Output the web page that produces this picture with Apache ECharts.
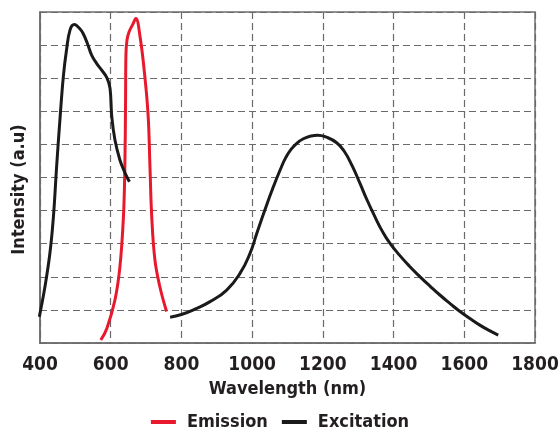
<!DOCTYPE html>
<html>
<head>
<meta charset="utf-8">
<script src="https://cdn.jsdelivr.net/npm/echarts@6/dist/echarts.min.js"></script>
<style>html,body{margin:0;padding:0;background:#fff}#c{width:560px;height:440px}</style>
</head>
<body>
<div id="c"></div>
<script>
var xTicks = [400, 600, 800, 1000, 1200, 1400, 1600, 1800];

var emissionWl = [572, 589, 612, 626, 636, 640, 642, 643, 646, 652, 662, 671, 683, 697, 706, 711, 716, 725, 739, 758];
var emissionI  = [0.09, 0.44, 1.30, 2.30, 3.82, 5.33, 7.34, 8.70, 9.15, 9.40, 9.62, 9.80, 9.25, 8.00, 6.84, 5.33, 3.82, 2.51, 1.70, 0.95];

var excitationVisWl = [398, 414, 428, 438, 447, 457, 466, 475, 485, 497, 512, 522, 534, 546, 560, 574, 589, 598, 603, 612, 626, 640, 653];
var excitationVisI  = [0.79, 1.70, 2.71, 3.82, 5.33, 6.84, 8.05, 8.85, 9.46, 9.62, 9.50, 9.35, 9.05, 8.70, 8.45, 8.25, 8.02, 7.70, 6.84, 6.13, 5.53, 5.15, 4.87];

var excitationNirWl = [768, 800, 840, 881, 928, 966, 994, 1013, 1036, 1060, 1080, 1095, 1110, 1127, 1145, 1165, 1185, 1210, 1239, 1260, 1283, 1305, 1325, 1347, 1368, 1390, 1418, 1445, 1475, 1503, 1531, 1560, 1588, 1616, 1644, 1670, 1696];
var excitationNirI  = [0.78, 0.86, 1.03, 1.25, 1.60, 2.11, 2.71, 3.31, 4.02, 4.72, 5.25, 5.60, 5.85, 6.04, 6.17, 6.25, 6.28, 6.22, 6.05, 5.80, 5.35, 4.82, 4.32, 3.82, 3.38, 3.01, 2.64, 2.32, 2.00, 1.72, 1.45, 1.19, 0.95, 0.74, 0.54, 0.38, 0.24];

function pairs(xs, ys) { return xs.map(function (x, i) { return [x, ys[i]]; }); }

var FONT = '"DejaVu Sans Condensed", "DejaVu Sans", sans-serif';
var TXT = '#231f20';

var chart = echarts.init(document.getElementById('c'), null, {renderer: 'canvas'});
chart.setOption({
  animation: false,
  backgroundColor: '#fff',
  grid: {left: 40, right: 25, top: 12, bottom: 97, containLabel: false, outerBoundsMode: 'none',
         show: true, borderColor: '#6d6d6d', borderWidth: 1.5, backgroundColor: 'transparent'},
  legend: {
    bottom: 4, left: 'center',
    data: ['Emission', 'Excitation'],
    icon: 'rect', itemWidth: 25, itemHeight: 4, itemGap: 14,
    textStyle: {fontFamily: FONT, fontWeight: 'bold', fontSize: 18, color: TXT, padding: [0, 0, 0, 6]}
  },
  xAxis: {
    type: 'value', min: xTicks[0], max: xTicks[xTicks.length - 1], interval: 200,
    name: 'Wavelength (nm)', nameLocation: 'middle', nameGap: 32,
    nameTextStyle: {fontFamily: FONT, fontWeight: 'bold', fontSize: 18, color: TXT},
    axisLine: {show: true, lineStyle: {color: '#6d6d6d', width: 1.5}},
    axisTick: {show: false},
    axisLabel: {fontFamily: FONT, fontWeight: 'bold', fontSize: 19, color: TXT, margin: 13,
                formatter: function (v) { return String(v); }},
    splitLine: {show: true, lineStyle: {color: '#6a6a6a', type: [7, 4], width: 1.2}}
  },
  yAxis: {
    type: 'value', min: 0, max: 10, interval: 1,
    name: 'Intensity (a.u)', nameLocation: 'middle', nameGap: 12,
    nameTextStyle: {fontFamily: FONT, fontWeight: 'bold', fontSize: 18, color: TXT, padding: [0, 24, 0, 0]},
    axisLine: {show: true, lineStyle: {color: '#6d6d6d', width: 1.5}},
    axisTick: {show: false},
    axisLabel: {show: false},
    splitLine: {show: true, lineStyle: {color: '#6a6a6a', type: [7, 4], width: 1.2}}
  },
  series: [
    {name: 'Emission', type: 'line', data: pairs(emissionWl, emissionI), smooth: 0.4, showSymbol: false,
     color: '#e8192c', lineStyle: {color: '#e8192c', width: 3}},
    {name: 'Excitation', type: 'line', data: pairs(excitationVisWl, excitationVisI), smooth: 0.4, showSymbol: false,
     color: '#1a1a1a', lineStyle: {color: '#1a1a1a', width: 3}},
    {name: 'Excitation', type: 'line', data: pairs(excitationNirWl, excitationNirI), smooth: 0.5, showSymbol: false,
     color: '#1a1a1a', lineStyle: {color: '#1a1a1a', width: 3}}
  ]
});
</script>
</body>
</html>
